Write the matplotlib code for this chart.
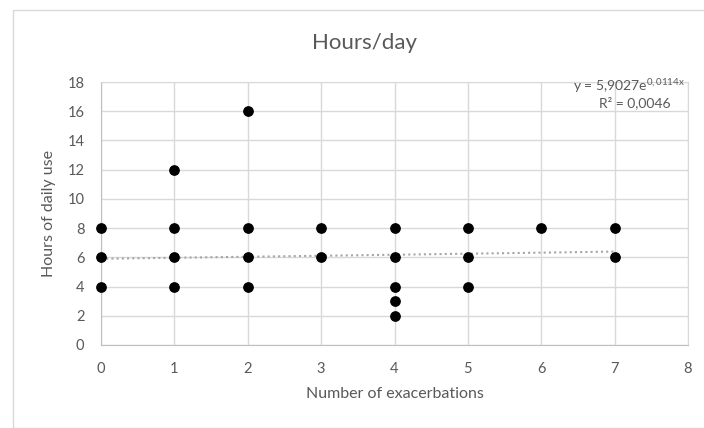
import numpy as np
import matplotlib.pyplot as plt
from matplotlib.patches import Rectangle

plt.rcParams['font.family'] = ['Lato', 'DejaVu Sans']
plt.rcParams['mathtext.fontset'] = 'custom'
plt.rcParams['mathtext.rm'] = 'Lato'
plt.rcParams['mathtext.it'] = 'Lato'

exacerbations = [0, 0, 0, 1, 1, 1, 1, 2, 2, 2, 2, 3, 3, 4, 4, 4, 4, 4, 5, 5, 5, 6, 7, 7]
hours = [8, 6, 4, 12, 8, 6, 4, 16, 8, 6, 4, 8, 6, 8, 6, 4, 3, 2, 8, 6, 4, 8, 8, 6]

# exponential trendline as reported on the chart
trend_a = 5.9027
trend_b = 0.0114
r_squared = "0,0046"

grey = "#595959"
grid_c = "#d9d9d9"

fig = plt.figure(figsize=(7.04, 4.28), dpi=100)
fig.patches.append(Rectangle((13 / 704, 0), 1, 1 - 10 / 428, transform=fig.transFigure,
                             fill=False, edgecolor="#d9d9d9", linewidth=1))

ax = fig.add_axes([101 / 704, 83 / 428, 587 / 704, 263 / 428])
ax.set_xlim(0, 8)
ax.set_ylim(0, 18)
ax.set_xticks(range(0, 9))
ax.set_yticks(range(0, 19, 2))
ax.grid(True, color=grid_c, linewidth=1)
ax.set_axisbelow(True)
for s in ax.spines.values():
    s.set_color(grid_c)
ax.spines["left"].set_color("#bfbfbf")
ax.spines["bottom"].set_color("#bfbfbf")
ax.tick_params(length=0, labelsize=10.5, colors=grey, pad=12)

xt = np.linspace(min(exacerbations), max(exacerbations), 100)
ax.plot(xt, trend_a * np.exp(trend_b * xt), linestyle=(0, (1, 1.5)), color="#a6a6a6",
        linewidth=1.5, zorder=2)
ax.scatter(exacerbations, hours, s=45, color="black", zorder=3, clip_on=False)

ax.set_xlabel("Number of exacerbations", fontsize=11.5, color=grey, labelpad=8)
ax.set_ylabel("Hours of daily use", fontsize=11.5, color=grey, labelpad=8)

fig.text(365 / 704, 1 - 43 / 428, "Hours/day", fontsize=16, color=grey, ha="center", va="center")
ax.text(0.995, 0.985, "y = 5,9027e$^{0,0114x}$", transform=ax.transAxes, fontsize=10,
        color=grey, ha="right", va="center")
ax.text(0.97, 0.92, "R² = " + r_squared, transform=ax.transAxes, fontsize=10,
        color=grey, ha="right", va="center")

fig.savefig("out.png", dpi=100)
